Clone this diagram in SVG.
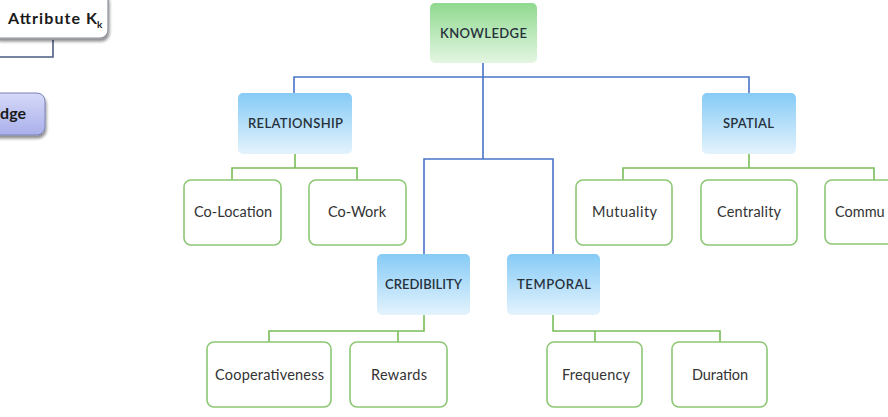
<svg xmlns="http://www.w3.org/2000/svg" width="888" height="417" viewBox="0 0 888 417">
<defs>
<linearGradient id="gGreen" x1="0" y1="0" x2="0" y2="1"><stop offset="0" stop-color="#8fd98f"/><stop offset="1" stop-color="#e4f6e2"/></linearGradient>
<linearGradient id="gBlue" x1="0" y1="0" x2="0" y2="1"><stop offset="0" stop-color="#86cbf6"/><stop offset="1" stop-color="#e4f3fd"/></linearGradient>
<linearGradient id="gPurple" x1="0" y1="0" x2="0" y2="1"><stop offset="0" stop-color="#d6d9f8"/><stop offset="1" stop-color="#a9b0ea"/></linearGradient>
<filter id="sh" x="-20%" y="-20%" width="140%" height="160%"><feGaussianBlur in="SourceAlpha" stdDeviation="1.5"/><feOffset dx="1" dy="3"/><feComponentTransfer><feFuncA type="linear" slope="0.45"/></feComponentTransfer><feMerge><feMergeNode/><feMergeNode in="SourceGraphic"/></feMerge></filter>
</defs>
<style>
.head{font-family:Lato,"Open Sans","Liberation Sans",sans-serif;font-size:13px;font-weight:600;fill:#27313c;text-anchor:middle}
.leaf{font-family:Lato,"Open Sans","Liberation Sans",sans-serif;font-size:14.5px;fill:#333333;text-anchor:middle}
.start{text-anchor:start}
.bold{font-family:Lato,"Open Sans","Liberation Sans",sans-serif;font-weight:bold;fill:#1a1a1a}
.leafbox{fill:#ffffff;stroke:#8cc774;stroke-width:1.6}
.blue{fill:url(#gBlue);stroke:none}
.blueline{fill:none;stroke:#4a74c8;stroke-width:1.6}
.greenline{fill:none;stroke:#79bd58;stroke-width:1.6}
</style>
<rect width="888" height="417" fill="#ffffff"/>

<g id="connectors">
<path class="blueline" d="M483 63V159M294 93V77H749V93M424 254V159H553V254"/>
<path class="greenline" d="M295 154V168M232 180V168H357V180"/>
<path class="greenline" d="M749 154V168M623 180V168H874V180"/>
<path class="greenline" d="M424 315V331H269V342M398 331V342"/>
<path class="greenline" d="M553 315V331H720V342M595 331V342"/>
<path fill="none" stroke="#4b5d80" stroke-width="1.6" d="M53 40V57H0"/>
</g>

<g id="attribute-k">
<rect x="-8" y="-8" width="116" height="46" rx="8" fill="#ffffff" stroke="#8a8f98" stroke-width="1.2" filter="url(#sh)"/>
<text class="bold" x="8" y="24" font-size="16" textLength="89">Attribute K</text>
<text class="bold" x="97" y="28" font-size="10">k</text>
</g>

<g id="knowledge-left">
<rect x="-20" y="93" width="65" height="42" rx="8" fill="url(#gPurple)" stroke="#7b82b8" stroke-width="1" filter="url(#sh)"/>
<text class="bold" x="26" y="119" font-size="16" text-anchor="end">dge</text>
</g>

<g id="knowledge">
<rect x="430" y="3" width="107" height="60" rx="5" fill="url(#gGreen)"/>
<text class="head" x="483.5" y="38" textLength="87">KNOWLEDGE</text>
</g>

<g id="relationship">
<rect x="238" y="93" width="114" height="61" rx="5" class="blue"/>
<text class="head" x="295.5" y="128" textLength="95">RELATIONSHIP</text>
</g>

<g id="spatial">
<rect x="702" y="93" width="94" height="61" rx="5" class="blue"/>
<text class="head" x="748.5" y="128" textLength="51">SPATIAL</text>
</g>

<g id="credibility">
<rect x="377" y="254" width="93" height="61" rx="5" class="blue"/>
<text class="head" x="423.5" y="289" textLength="77">CREDIBILITY</text>
</g>

<g id="temporal">
<rect x="507" y="254" width="93" height="61" rx="5" class="blue"/>
<text class="head" x="554" y="289" textLength="74">TEMPORAL</text>
</g>

<g id="co-location">
<rect x="184" y="180" width="97" height="65" rx="7" class="leafbox"/>
<text class="leaf" x="233" y="217" textLength="78">Co-Location</text>
</g>

<g id="co-work">
<rect x="309" y="180" width="97" height="65" rx="7" class="leafbox"/>
<text class="leaf" x="357" y="217" textLength="58">Co-Work</text>
</g>

<g id="mutuality">
<rect x="576" y="180" width="96" height="65" rx="7" class="leafbox"/>
<text class="leaf" x="624.5" y="217" textLength="65">Mutuality</text>
</g>

<g id="centrality">
<rect x="701" y="180" width="96" height="65" rx="7" class="leafbox"/>
<text class="leaf" x="749" y="217" textLength="64">Centrality</text>
</g>

<g id="community">
<rect x="825" y="180" width="96" height="64" rx="7" class="leafbox"/>
<text class="leaf start" x="835" y="217">Commu</text>
</g>

<g id="cooperativeness">
<rect x="207" y="342" width="124" height="65" rx="7" class="leafbox"/>
<text class="leaf" x="269.5" y="380" textLength="109">Cooperativeness</text>
</g>

<g id="rewards">
<rect x="350" y="342" width="97" height="65" rx="7" class="leafbox"/>
<text class="leaf" x="399" y="380" textLength="56">Rewards</text>
</g>

<g id="frequency">
<rect x="547" y="342" width="95" height="65" rx="7" class="leafbox"/>
<text class="leaf" x="596" y="380" textLength="68">Frequency</text>
</g>

<g id="duration">
<rect x="672" y="342" width="95" height="65" rx="7" class="leafbox"/>
<text class="leaf" x="720" y="380" textLength="56">Duration</text>
</g>
</svg>
